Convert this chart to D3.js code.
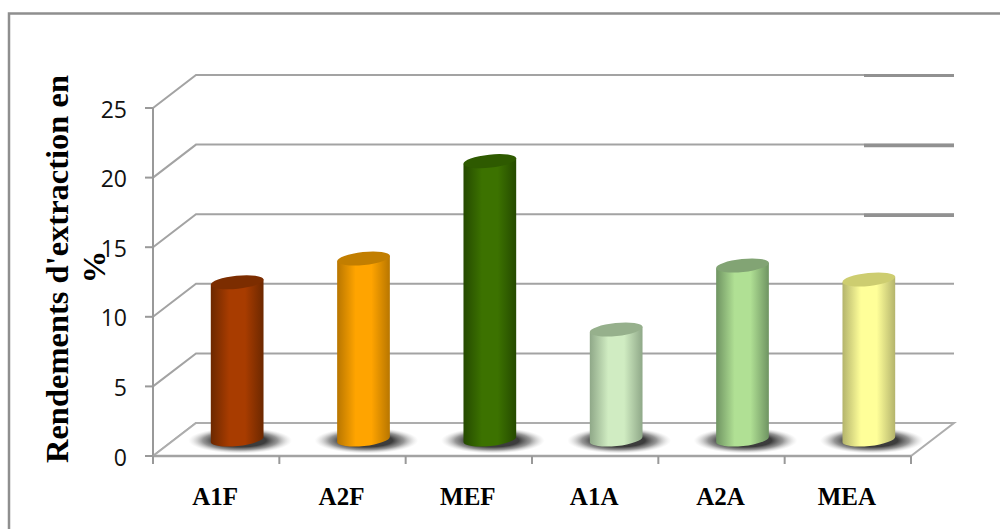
<!DOCTYPE html>
<html>
<head>
<meta charset="utf-8">
<script src="https://cdn.jsdelivr.net/npm/d3@7/dist/d3.min.js"></script>
<style>
html,body{margin:0;padding:0;background:#fff;overflow:hidden}
svg{display:block}
</style>
</head>
<body>
<script>
// Extraction yields per sample
const categories = ["A1F", "A2F", "MEF", "A1A", "A2A", "MEA"];
const yields = [11.3, 13.0, 20.0, 7.9, 12.5, 11.5];
const yTicks = [0, 5, 10, 15, 20, 25];

// Body centre, body edge and cap tones of each cylinder
const bodyLight = ["#a83c00", "#ffa400", "#3c7200", "#d0ecc2", "#b0e094", "#ffff99"];
const bodyDark = ["#6c2800", "#b87600", "#254a00", "#8fa888", "#6f9462", "#b4b46c"];
const capTone = ["#7c2d00", "#c27e00", "#2e5a00", "#96b08c", "#82a474", "#cdcd70"];

const W = 1000, H = 529;
const gridColor = "#a3a3a3";
const depth = {dx: 43, dy: -33};     // oblique offset of the back wall

const svg = d3.select("body").append("svg").attr("width", W).attr("height", H);
const defs = svg.append("defs");

const y = d3.scaleLinear().domain([0, 25]).range([456, 108]);
const x = d3.scaleBand().domain(categories).range([153, 911]);

// Outer frame: only the top and left edges are visible on the page
svg.append("path").attr("d", `M9,${H}V13.5H${W}`)
  .attr("fill", "none").attr("stroke", "#8f8f8f").attr("stroke-width", 2.5);

// Wall gridlines with their oblique returns toward the value axis
const grid = svg.append("g").attr("fill", "none").attr("stroke", gridColor).attr("stroke-width", 2);
grid.selectAll("path").data(yTicks).join("path")
  .attr("d", v => `M153,${y(v)}L${153 + depth.dx},${y(v) + depth.dy}H${911 + depth.dx}`);

// Heavier right-hand portion of the upper gridlines
svg.append("g").selectAll("line").data(yTicks.filter(v => v >= 15)).join("line")
  .attr("x1", 864).attr("x2", 954)
  .attr("y1", v => y(v) + depth.dy + (v === 25 ? 0.5 : 1)).attr("y2", v => y(v) + depth.dy + (v === 25 ? 0.5 : 1))
  .attr("stroke", "#919191").attr("stroke-width", v => v === 25 ? 3 : 3.5);

// Floor
svg.append("path")
  .attr("d", `M153,${y(0)}L${153 + depth.dx},${y(0) + depth.dy}H${911 + depth.dx}L911,${y(0)}Z`)
  .attr("fill", "#fff").attr("stroke", "#adadad").attr("stroke-width", 2);

// Value axis
svg.append("path").attr("d", `M153,${y(25)}V${y(0)}`).attr("stroke", "#999").attr("stroke-width", 2).attr("fill", "none");
svg.append("g").selectAll("line").data(yTicks).join("line")
  .attr("x1", 145).attr("x2", 153).attr("y1", d => y(d)).attr("y2", d => y(d))
  .attr("stroke", "#999").attr("stroke-width", 2);
svg.append("g").selectAll("text").data(yTicks).join("text")
  .attr("x", 127).attr("y", d => y(d) + 9.5)
  .attr("text-anchor", "end")
  .attr("font-family", "'Open Sans', sans-serif").attr("font-size", 23).attr("fill", "#111")
  .text(d => d);

// Category axis
const xEdges = categories.map(c => x(c)).concat(x.range()[1]);
svg.append("path").attr("d", `M153,${y(0)}H911`).attr("stroke", "#a3a3a3").attr("stroke-width", 2.5);
svg.append("g").selectAll("line").data(xEdges).join("line")
  .attr("x1", d => d).attr("x2", d => d).attr("y1", y(0)).attr("y2", y(0) + 8)
  .attr("stroke", "#999").attr("stroke-width", 2);
svg.append("g").selectAll("text").data(categories).join("text")
  .attr("x", d => x(d) + x.bandwidth() / 2 - 1)
  .attr("y", 505)
  .attr("text-anchor", "middle")
  .attr("font-family", "'Liberation Serif', serif").attr("font-weight", "bold").attr("font-size", 25).attr("fill", "#000")
  .text(d => d);

// Axis title, wrapped onto two lines
const title = svg.append("g")
  .attr("font-family", "'Liberation Serif', serif").attr("font-weight", "bold").attr("font-size", 32.5)
  .attr("text-anchor", "middle").attr("fill", "#000");
title.append("text").attr("transform", "translate(68,269) rotate(-90)").text("Rendements d'extraction en");
title.append("text").attr("transform", "translate(105,267) rotate(-90)").text("%");

// Cylinders
const rx = 26.5, ry = 6.5, tilt = -6;
const tiltRad = tilt * Math.PI / 180;
const ex = rx * Math.cos(tiltRad), ey = rx * Math.sin(tiltRad);
const baseY = y(0) + depth.dy / 2;
const cx = d => x(d) + x.bandwidth() / 2 + depth.dx / 2 - 0.5;
const topY = v => y(v) + depth.dy / 2;

// Soft contact shadow on the floor
const shadow = defs.append("radialGradient").attr("id", "floor-shadow");
shadow.append("stop").attr("offset", "0.5").attr("stop-color", "#3c3c3c");
shadow.append("stop").attr("offset", "0.72").attr("stop-color", "#6a6a6a").attr("stop-opacity", 0.7);
shadow.append("stop").attr("offset", "0.88").attr("stop-color", "#a0a0a0").attr("stop-opacity", 0.3);
shadow.append("stop").attr("offset", "1").attr("stop-color", "#ccc").attr("stop-opacity", 0);

categories.forEach((c, i) => {
  const g = defs.append("linearGradient").attr("id", `body-${i}`);
  g.append("stop").attr("offset", "0").attr("stop-color", bodyDark[i]);
  g.append("stop").attr("offset", "0.35").attr("stop-color", bodyLight[i]);
  g.append("stop").attr("offset", "0.65").attr("stop-color", bodyLight[i]);
  g.append("stop").attr("offset", "1").attr("stop-color", bodyDark[i]);
});

const rows = categories.map((c, i) => ({c, i, v: yields[i]}));

svg.append("g").selectAll("ellipse").data(rows).join("ellipse")
  .attr("cx", d => cx(d.c) + 3).attr("cy", baseY + 1)
  .attr("rx", 52).attr("ry", 13)
  .attr("fill", "url(#floor-shadow)");

const bars = svg.append("g").selectAll("g").data(rows).join("g");
bars.append("path")
  .attr("fill", d => `url(#body-${d.i})`)
  .attr("d", d => {
    const c0 = cx(d.c), t = topY(d.v);
    return `M${c0 - ex},${t - ey}L${c0 - ex},${baseY - ey}` +
      `A${rx},${ry} ${tilt} 0 0 ${c0 + ex},${baseY + ey}` +
      `L${c0 + ex},${t + ey}Z`;
  });
bars.append("ellipse")
  .attr("cx", 0).attr("cy", 0).attr("rx", rx).attr("ry", ry)
  .attr("transform", d => `translate(${cx(d.c)},${topY(d.v)}) rotate(${tilt})`)
  .attr("fill", d => capTone[d.i]);
</script>
</body>
</html>
